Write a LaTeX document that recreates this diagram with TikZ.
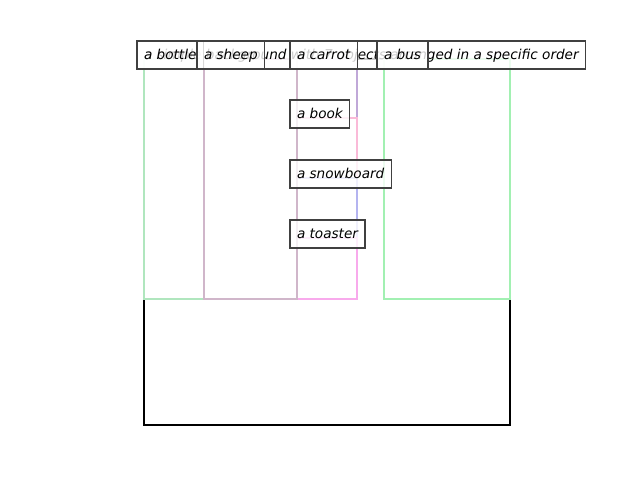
\documentclass[tikz,border=0pt]{standalone}
\usepackage{fontspec}
\setmainfont{DejaVu Sans}
\definecolor{bottlegreen}{RGB}{176,230,190}
\definecolor{sheepmauve}{RGB}{208,182,202}
\definecolor{carrotlilac}{RGB}{192,168,216}
\definecolor{bookpink}{RGB}{250,186,216}
\definecolor{boardblue}{RGB}{180,180,240}
\definecolor{toasterpink}{RGB}{248,170,236}
\definecolor{busgreen}{RGB}{162,240,178}

\begin{document}
\begin{tikzpicture}[x=0.75pt, y=-0.75pt]
    % Styles
    \tikzstyle{region} = [line width=1.8pt]
    \tikzstyle{tag} = [draw=black!75, line width=0.8pt, fill=white, fill opacity=0.8, text opacity=1, anchor=text, inner xsep=5.25pt, inner ysep=0pt, text height=13.5pt, text depth=7.5pt, font=\fontsize{10.2}{12}\selectfont\itshape]

    \useasboundingbox (0,0) rectangle (640,480);

    % Regions
    \draw[region, line width=2.1pt, black] (144,59) rectangle (510,425);
    \draw[region, bottlegreen] (144,59) rectangle (204,299);
    \draw[region, carrotlilac] (297,59) rectangle (357,299);
    \draw[region, bookpink] (297,118) rectangle (357,299);
    \draw[region, boardblue] (297,178) rectangle (357,299);
    \draw[region, toasterpink] (297,238) rectangle (357,299);
    \draw[region, sheepmauve] (204,59) rectangle (297,299);
    \draw[region, busgreen] (384,59) rectangle (510,299);

    % Labels
    \node[tag] (scene) at (144,59) {a simple background with 7 objects arranged in a specific order};
    \node[tag] (bottle) at (144,59) {a bottle};
    \node[tag] (sheep) at (204,59) {a sheep};
    \node[tag] (carrot) at (297,59) {a carrot};
    \node[tag] (bus) at (384,59) {a bus};
    \node[tag] (book) at (297,118) {a book};
    \node[tag] (snowboard) at (297,178) {a snowboard};
    \node[tag] (toaster) at (297,238) {a toaster};
\end{tikzpicture}
\end{document}
